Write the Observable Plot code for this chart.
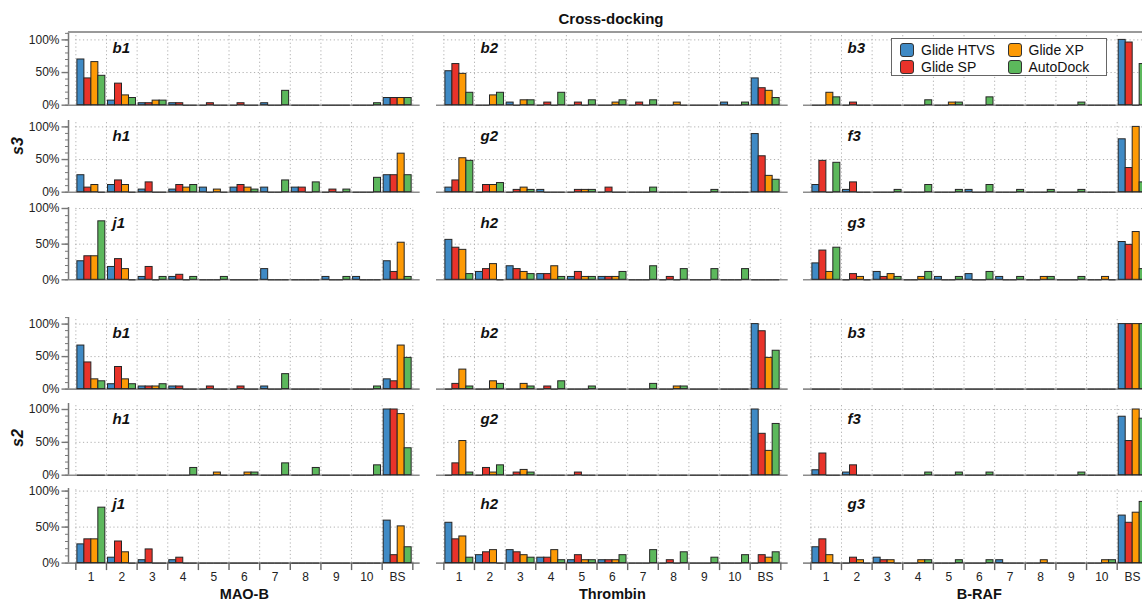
<!DOCTYPE html>
<html><head><meta charset="utf-8">
<script src="https://cdn.jsdelivr.net/npm/d3@7"></script>
<script src="https://cdn.jsdelivr.net/npm/@observablehq/plot@0.6"></script>
<style>
html,body{margin:0;padding:0;background:#fff;overflow:hidden;}
#chart{position:relative;width:1142px;height:603px;overflow:hidden;font-family:"Liberation Sans",Arial,Helvetica,sans-serif;color:#111;}
.panel{position:absolute;}
.abs{position:absolute;white-space:nowrap;}
</style></head><body><div id="chart"></div>
<script>
// ---- data ----
const categories = ["1","2","3","4","5","6","7","8","9","10","BS"];
const series = ["Glide HTVS","Glide SP","Glide XP","AutoDock"];
const colors = ["#3f8ac5","#e8332a","#fd9a05","#5cb85c"];
const targets = ["MAO-B","Thrombin","B-RAF"];
const groupNames = ["s3","s2"];
const rowLabels = [["b1","b2","b3"],["h1","g2","f3"],["j1","h2","g3"]];

// each panel: [HTVS, SP, XP, AutoDock], values in % for categories 1..10, BS
const s3_b1 = [[70,7,3,3,0,0,3,0,0,0,11],[41,33,3,3,3,3,0,0,0,0,11],[66,15,7,0,0,0,0,0,0,0,11],[45,11,7,0,0,0,22,0,0,3,11]];
const s3_b2 = [[52,0,4,0,0,0,0,0,0,4,41],[63,0,0,4,4,0,4,0,0,0,26],[48,15,7.5,0,0,4,0,4,0,0,22],[19,19,7.5,19,7.5,7.5,7.5,0,0,4,11]];
const s3_b3 = [[0,0,0,0,0,0,0,0,0,0,100],[0,4,0,0,0,0,0,0,0,0,96],[19,0,0,0,4,0,0,0,0,0,0],[12,0,0,7.5,4,12,0,0,4,0,63]];
const s3_h1 = [[26,11,4,4,7,7,7,7,0,0,26],[7,18,15,11,0,11,0,7,4,0,26],[11,11,0,7,4,7,0,0,0,0,59],[0,0,0,11,0,4,18,15,4,22,26]];
const s3_g2 = [[7,0,0,3.5,0,0,0,0,0,0,89],[18,11,3.5,0,3.5,7,0,0,0,0,55],[52,11,7,0,3.5,0,0,0,0,0,25],[48,14,3.5,0,3.5,0,7,0,3.5,0,19]];
const s3_f3 = [[11,3.5,0,0,0,3.5,0,0,0,0,81],[48,15,0,0,0,0,0,0,0,0,37],[0,0,0,0,0,0,0,0,0,0,100],[45,0,3.5,11,3.5,11,3.5,3.5,3.5,0,15]];
const s3_j1 = [[26,18,4,4,0,0,15,0,4,4,26],[33,29,18,7,0,0,0,0,0,0,11],[33,15,0,0,0,0,0,0,0,0,52],[82,0,4,4,4,0,0,0,4,0,4]];
const s3_h2 = [[56,11,19,8,4,4,0,0,0,0,0],[45,15,15,8,11,4,0,4,0,0,0],[42,22,11,19,4,4,0,0,0,0,0],[8,0,8,4,4,11,19,15,15,15,0]];
const s3_g3 = [[23,0,11,0,4,8,4,0,0,0,53],[41,8,4,0,0,0,0,0,0,0,49],[11,4,8,4,0,0,0,4,0,4,67],[45,0,4,11,4,11,4,4,4,0,15]];

const s2_b1 = [[67,7.5,4,4,0,0,4,0,0,0,15],[41,34,4,4,4,4,0,0,0,0,12],[15,15,4,0,0,0,0,0,0,0,67],[12,7.5,7.5,0,0,0,23,0,0,4,48]];
const s2_b2 = [[0,0,0,0,0,0,0,0,0,0,100],[8,0,0,4,0,0,0,0,0,0,89],[30,12,8,0,0,0,0,4,0,0,48],[4,8,4,12,4,0,8,4,0,0,59]];
const s2_b3 = [[0,0,0,0,0,0,0,0,0,0,100],[0,0,0,0,0,0,0,0,0,0,100],[0,0,0,0,0,0,0,0,0,0,100],[0,0,0,0,0,0,0,0,0,0,100]];
const s2_h1 = [[0,0,0,0,0,0,0,0,0,0,100],[0,0,0,0,0,0,0,0,0,0,100],[0,0,0,0,4,4,0,0,0,0,93],[0,0,0,11,0,4,18,11,0,15,41]];
const s2_g2 = [[0,0,0,0,0,0,0,0,0,0,100],[18,11,4,0,4,0,0,0,0,0,63],[52,4,8,0,0,0,0,0,0,0,37],[4,15,4,0,0,0,0,0,0,0,78]];
const s2_f3 = [[7.5,4,0,0,0,0,0,0,0,0,89],[33,15,0,0,0,0,0,0,0,0,52],[0,0,0,0,0,0,0,0,0,0,100],[0,0,0,4,4,4,0,0,4,0,86]];
const s2_j1 = [[26,7.5,4,4,0,0,0,0,0,0,59],[33,30,19,7.5,0,0,0,0,0,0,11],[33,15,0,0,0,0,0,0,0,0,51],[77,0,0,0,0,0,0,0,0,0,22]];
const s2_h2 = [[56,11,18,7.5,4,4,0,0,0,0,0],[33,15,15,7.5,11,4,0,4,0,0,11],[37,18,11,18,4,4,0,0,0,0,7.5],[7.5,0,7.5,4,4,11,18,15,7.5,11,15]];
const s2_g3 = [[22,0,7.5,0,0,0,4,0,0,0,66],[33,7.5,4,0,0,0,0,0,0,0,56],[11,4,4,4,0,0,0,4,0,4,70],[0,0,0,4,4,4,0,0,0,4,85]];

const panelValues = [
  [s3_b1, s3_b2, s3_b3],
  [s3_h1, s3_g2, s3_f3],
  [s3_j1, s3_h2, s3_g3],
  [s2_b1, s2_b2, s2_b3],
  [s2_h1, s2_g2, s2_f3],
  [s2_j1, s2_h2, s2_g3]
];

// ---- layout ----
const chart = document.getElementById("chart");
const colLeft = [68.3, 435.9, 802.6];
const plotW = 351.7;
const rows = [
  {top: 32.3, zero: 105, p100: 39.7},
  {top: 120, zero: 191.7, p100: 126.4},
  {top: 206.7, zero: 279, p100: 207.7},
  {top: 316.7, zero: 388.3, p100: 323.3},
  {top: 403.3, zero: 475, p100: 409.3},
  {top: 487.7, zero: 562.3, p100: 490.3}
];
const mL = 62, mR = 12, mT = 6;
const xDomain = [-0.24, categories.length + 0.24];
const barOffset = 0.05, barWidth = 0.228;
const gridStyle = {stroke: "#b0b0b0", strokeWidth: 1, strokeDasharray: "1.2,2.6"};
const colorScale = {domain: series, range: colors};

function panel(values, label, r, c) {
  const row = rows[r];
  const bottomRow = r === rows.length - 1;
  const mB = bottomRow ? 40 : 6;
  const innerH = row.zero - row.top;
  const ymax = 100 * innerH / (row.zero - row.p100);
  const data = [];
  series.forEach((s, si) => values[si].forEach((v, ci) => data.push({cat: categories[ci], ci, si, series: s, value: v})));
  const bx1 = d => d.ci + barOffset + d.si * barWidth;
  const bx2 = d => d.ci + barOffset + (d.si + 1) * barWidth;
  const marks = [
    Plot.ruleX(d3.range(0, categories.length + 1), {y1: 0, y2: ymax, ...gridStyle}),
    Plot.ruleY([50, 100], {x1: 0, x2: categories.length, ...gridStyle}),
    Plot.ruleY([0], {x1: xDomain[0], x2: xDomain[1], stroke: "#8c8c8c", strokeWidth: 1.6}),
    Plot.rectY(data, {x1: bx1, x2: bx2, y1: 0, y2: "value", fill: "series", stroke: "#262626", strokeWidth: 1}),
    Plot.ruleY(data.filter(d => d.value === 0), {x1: bx1, x2: bx2, y: 0, stroke: "#333", strokeWidth: 1.2}),
    Plot.text([label], {text: d => d, frameAnchor: "top-left", dx: 44, dy: 16, textAnchor: "start", lineAnchor: "middle",
      fontWeight: "bold", fontStyle: "italic", fontSize: 15, fill: "#111"})
  ];
  if (c === 0) {
    marks.push(
      Plot.ruleX([xDomain[0]], {y1: 0, y2: ymax, stroke: "#777", strokeWidth: 1.5}),
      Plot.axisY({ticks: d3.range(0, ymax, 10), tickSize: 3, tickFormat: () => "", stroke: "#777", label: null}),
      Plot.axisY({ticks: [0, 50, 100], tickSize: 6.5, tickPadding: 2.5, tickFormat: d => d + "%", stroke: "#777", strokeWidth: 1.4,
        fill: "#222", fontSize: 12, label: null})
    );
  }
  if (bottomRow) {
    marks.push(
      Plot.axisX({ticks: d3.range(0, categories.length + 1), tickSize: 7.5, tickFormat: () => "", stroke: "#666", strokeWidth: 1.4, label: null}),
      Plot.axisX({ticks: d3.range(categories.length).map(i => i + 0.5), tickSize: 0, tickPadding: 9,
        tickFormat: v => categories[Math.floor(v)], fill: "#222", fontSize: 12, label: null}),
      Plot.text([targets[c]], {text: d => d, frameAnchor: "bottom", dy: 31, fontWeight: "bold", fontSize: 14.5, fill: "#111", lineAnchor: "middle"})
    );
  }
  const svg = Plot.plot({
    width: plotW + mL + mR,
    height: innerH + mT + mB,
    marginLeft: mL, marginRight: mR, marginTop: mT, marginBottom: mB,
    x: {type: "linear", domain: xDomain, axis: null, label: null},
    y: {type: "linear", domain: [0, ymax], axis: null, label: null},
    color: colorScale,
    style: {background: "transparent", overflow: "visible", maxWidth: "none", fontFamily: '"Liberation Sans", Arial, sans-serif', fontSize: "12px", color: "#222"},
    marks
  });
  const div = document.createElement("div");
  div.className = "panel";
  div.style.left = (colLeft[c] - mL) + "px";
  div.style.top = (row.top - mT) + "px";
  div.appendChild(svg);
  chart.appendChild(div);
}

panelValues.forEach((rowVals, r) => rowVals.forEach((vals, c) => panel(vals, rowLabels[r % 3][c], r, c)));

// top rule under title
const topRule = document.createElement("div");
topRule.className = "abs";
Object.assign(topRule.style, {left: "68.3px", top: "31.3px", width: "1080px", height: "2px", background: "#9a9a9a"});
chart.appendChild(topRule);

// title
const title = document.createElement("div");
title.className = "abs";
title.textContent = "Cross-docking";
Object.assign(title.style, {left: "611px", top: "10px", transform: "translateX(-50%)", fontWeight: "bold", fontSize: "15px", lineHeight: "18px"});
chart.appendChild(title);

// group labels
[[groupNames[0], 146], [groupNames[1], 438]].forEach(([t, cy]) => {
  const g = document.createElement("div");
  g.className = "abs";
  g.textContent = t;
  Object.assign(g.style, {left: "17.5px", top: cy + "px", transform: "translate(-50%,-50%) rotate(-90deg)", fontWeight: "bold", fontStyle: "italic", fontSize: "16px", lineHeight: "16px"});
  chart.appendChild(g);
});

// legend
const legend = document.createElement("div");
legend.className = "abs";
Object.assign(legend.style, {left: "891px", top: "38px", width: "214px", height: "36px", border: "1.5px solid #666", background: "#fff"});
const legPos = [[8, 4], [8, 21], [115.5, 4], [115.5, 21]];
series.forEach((s, i) => {
  const [lx, ly] = legPos[i];
  const sw = document.createElement("div");
  sw.className = "abs";
  Object.assign(sw.style, {left: lx + "px", top: ly + "px", width: "12px", height: "11.5px", background: colors[i], border: "1.3px solid #333", borderRadius: "3px"});
  legend.appendChild(sw);
  const tx = document.createElement("div");
  tx.className = "abs";
  tx.textContent = s;
  Object.assign(tx.style, {left: (lx + 21) + "px", top: (ly - 1.5) + "px", fontSize: "14px", lineHeight: "17px", color: "#111"});
  legend.appendChild(tx);
});
chart.appendChild(legend);
</script>
</body></html>
